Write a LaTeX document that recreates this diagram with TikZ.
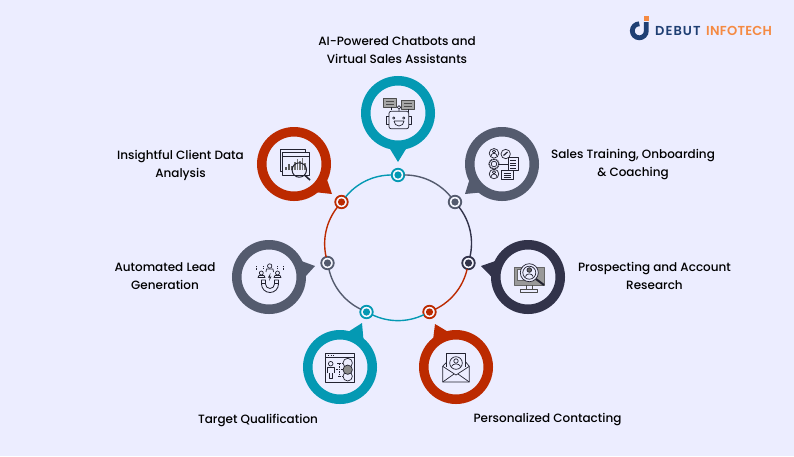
\documentclass[tikz,border=0pt]{standalone}
\usepackage{fontspec}
\setmainfont{Poppins}
\newfontfamily\labelfont{Poppins Medium}
\newfontfamily\brandleft[LetterSpace=8]{Poppins SemiBold}
\newfontfamily\brandright[LetterSpace=2]{Poppins SemiBold}
\usetikzlibrary{positioning}
\usetikzlibrary{calc}
\definecolor{paper}{HTML}{ECEDFF}
\definecolor{tealc}{HTML}{0499B3}
\definecolor{redc}{HTML}{BC2A00}
\definecolor{greyc}{HTML}{545B6E}
\definecolor{darkc}{HTML}{32334A}
\definecolor{inkc}{HTML}{222230}
\definecolor{navyc}{HTML}{1F3F73}
\definecolor{orangec}{HTML}{F58A42}
\tikzstyle{pin}=[circle,line width=9.5pt,fill=paper,draw,minimum size=64.5pt,inner sep=0pt,outer sep=0pt]
\tikzstyle{dot}=[circle,line width=1.8pt,fill=paper!40!white,draw,minimum size=12.5pt,inner sep=0pt,outer sep=0pt]
\tikzstyle{arcline}=[draw,line width=1.4pt]
\tikzstyle{caption}=[font=\labelfont\fontsize{12}{18}\selectfont,align=center,text=black]
\tikzstyle{icon}=[draw=inkc,line width=0.7pt,line join=round]
\tikzstyle{brand}=[inner sep=0pt,anchor=west]

\begin{document}
\begin{tikzpicture}[x=1pt,y=-1pt]
    \useasboundingbox (0,0) rectangle (794,456);
    \fill[paper] (0,0) rectangle (794,456);

    % First we draw the ring of dots
    \foreach \pos/\name/\col in {{(398,175)/D1/tealc}, {(455,202)/D2/greyc}, {(468.5,263)/D3/darkc}, {(429.5,312)/D4/redc}, {(366.5,312)/D5/tealc}, {(327.5,263)/D6/greyc}, {(341.5,202)/D7/redc}}
    {
        \node[dot,draw=\col] (\name) at \pos {};
        \fill[\col] (\name) circle (3.6);
    }

    % Connect dots with arcs
    \foreach \source/\dest/\col in {D1/D2/greyc, D2/D3/darkc, D3/D4/redc, D4/D5/tealc, D5/D6/greyc, D6/D7/redc, D7/D1/tealc}
        \path[arcline,\col] (\source) to[bend left=25.7,looseness=0.9] (\dest);

    % Pins with their tips
    \foreach \pos/\name/\point/\col/\ang in {{(398,113)/P1/(398,162)/tealc/270}, {(502,164)/P2/(465,194)/greyc/219}, {(528,277)/P3/(481,266)/darkc/167}, {(456,367)/P4/(435,324)/redc/116}, {(340,367)/P5/(362,323)/tealc/63}, {(269,277)/P6/(315,266)/greyc/13}, {(294,164)/P7/(332,194)/redc/322}}
    {
        \node[pin,draw=\col] (\name) at \pos {};
        \pgfmathsetmacro{\lo}{\ang-21}
        \pgfmathsetmacro{\hi}{\ang+21}
        \fill[\col] \point -- (\name.\lo) -- (\name.\hi) -- cycle;
    }

    % Labels
    \foreach \pos/\name/\label in {{(397,50)/L1/{AI-Powered Chatbots and\\Virtual Sales Assistants}}, {(633,165)/L2/{Sales Training, Onboarding\\\& Coaching}}, {(654.5,276)/L3/{Prospecting and Account\\Research}}, {(547.5,420)/L4/{Personalized Contacting}}, {(258,420)/L5/{Target Qualification}}, {(165,276)/L6/{Automated Lead\\Generation}}, {(180.5,165)/L7/{Insightful Client Data\\Analysis}}}
        \node[caption] (\name) at \pos {\label};

    % Icons, each one round the centre of its pin
    \begin{scope}[shift={(398,113)}]
        \draw[icon,rounded corners=2] (-9,-1.7) rectangle (10.7,15.7);
        \draw[icon] (-9,3) -- (-12,3) -- (-12,11) -- (-9,11) (10.7,3) -- (13.5,3) -- (13.5,11) -- (10.7,11);
        \draw[icon] (-4.3,5) circle (1.2) (5.7,5) circle (1.2);
        \draw[icon] (-4,8) -- (6,8) arc (0:180:5 and 5);
        \draw[icon] (1,-1.7) -- (1,-4) (1,-5.7) circle (1.7);
        \draw[icon,fill=black!35,draw=black!70] (-15,-15) rectangle (-1.7,-6);
        \draw[icon,fill=black!35,draw=black!70] (3.3,-12.7) rectangle (16.3,-3.6);
        \draw[icon,draw=black!70] (-12.5,-12) -- (-4,-12) (-12.5,-9) -- (-4,-9) (5.5,-9.7) -- (14,-9.7) (5.5,-6.7) -- (14,-6.7);
        \draw[icon] (-7,-6) -- (-7,-3.5) (10,-3.6) -- (10,-1.2);
    \end{scope}
    \begin{scope}[shift={(502,164)}]
        \draw[icon] (-8,-10.7) circle (4.8) (-8,10) circle (4.8) (3.7,-10) circle (4.7);
        \draw[icon,dash pattern=on 1.2pt off 0.6pt,line width=1.3pt] (-8,0) circle (5);
        \draw[icon] (-8,0) circle (2.8);
        \draw[icon] (-8,-12.5) circle (1.6) (-11,-7.8) arc (180:360:3 and 3);
        \draw[icon] (-8,8.2) circle (1.6) (-11,13) arc (180:360:3 and 3);
        \draw[icon,line width=1.2pt] (1.5,-8.5) -- (5.5,-12);
        \draw[icon] (-3,0) -- (6,0);
        \draw[icon,fill=paper] (6,-6.7) rectangle (16,6.7);
        \draw[icon] (8,-3.5) -- (14,-3.5) (8,-1) -- (14,-1) (8,1.5) -- (14,1.5) (8,4) -- (14,4);
        \draw[icon,fill=paper] (-0.7,6) rectangle (11,15.3);
        \draw[icon] (1.5,9) -- (9,9) (1.5,11) -- (9,11) (1.5,13) -- (9,13);
    \end{scope}
    \begin{scope}[shift={(528,277)}]
        \draw[icon,fill=black!40,draw=black!60] (-14,-10) rectangle (16,8);
        \draw[icon,fill=paper,draw=black!60] (-11,-8) rectangle (-3,3);
        \draw[icon,draw=black!70] (-2,8) -- (-2,12.7) (4,8) -- (4,12.7);
        \draw[icon,draw=black!70] (-8,12.7) rectangle (9,15.3);
        \draw[icon,fill=paper] (1.3,-4.3) circle (9);
        \draw[icon] (1.3,-4.3) circle (6.5);
        \draw[icon,fill=black!60] (1.3,-7) circle (2.3);
        \draw[icon] (-2.5,-0.5) .. controls (-2,-4) and (4.5,-4) .. (5,-0.5);
        \draw[icon,line width=2pt] (8,2) -- (16,8);
    \end{scope}
    \begin{scope}[shift={(456,367)}]
        \draw[icon] (-9.3,0) -- (-9.3,-14) -- (9.7,-14) -- (9.7,0);
        \draw[icon] (0,-4) circle (6.3) (0,-6) circle (2.2);
        \draw[icon] (-4.5,-0.5) .. controls (-3,-4) and (3,-4) .. (4.5,-0.5);
        \draw[icon] (-9.3,-5) -- (-13.3,-0.7) -- (-13.3,15) -- (13.3,15) -- (13.3,-0.7) -- (9.7,-5);
        \draw[icon] (-13.3,-0.7) -- (0,8) -- (13.3,-0.7) (-13.3,15) -- (-2,7) (13.3,15) -- (2,7);
    \end{scope}
    \begin{scope}[shift={(340,367)}]
        \draw[icon] (-14.3,-14) rectangle (14.3,15.3);
        \draw[icon] (-14.3,-9.7) -- (14.3,-9.7);
        \draw[icon] (-12,-12) -- (-11,-12) (-9.5,-12) -- (-8.5,-12) (-7,-12) -- (-6,-12);
        \draw[icon] (-9.3,-3.3) circle (2.3);
        \draw[icon] (-12.5,6) -- (-12.5,0.5) -- (-6,0.5) -- (-6,6) (-11,6) -- (-11,11) -- (-7.5,11) -- (-7.5,6);
        \draw[icon,dash pattern=on 1.5pt off 1pt] (-3,-4) -- (-1,-4) -- (-1,9.5) -- (-3,9.5) (-4,2.7) -- (3,2.7) (-1,-4) -- (3,-4) (-1,9.5) -- (3,9.5);
        \draw[icon] (7.7,-4) circle (4.7) (7.7,9.3) circle (4.7);
        \draw[icon,fill=black!45] (7.7,2.7) circle (4.7);
    \end{scope}
    \begin{scope}[shift={(269,277)}]
        % magnet
        \draw[icon,line width=0.8pt] (-7.5,3) -- (-7.5,7) arc (180:360:8.5 and -8.5) -- (9.5,3) -- (5.5,3) -- (5.5,7) arc (0:180:4.5 and 4.5) -- (-3.5,3) -- cycle;
        \draw[icon] (-7.5,6) -- (-3.5,6) (5.5,6) -- (9.5,6);
        % people
        \draw[icon] (0.7,-11) circle (2.2) (-7.7,-4) circle (2) (8.5,-4) circle (2);
        \draw[icon] (-3,-5) -- (-2.5,-8) -- (4,-8) -- (4.5,-5);
        \draw[icon] (-11,0.5) -- (-10,-1.5) -- (-5,-1.5) -- (-4,0.5) -- cycle (5,0.5) -- (6,-1.5) -- (11,-1.5) -- (12,0.5) -- cycle;
        \fill[inkc] (1.5,-4) -- (-1,0.5) -- (0.7,0.5) -- (0,4) -- (2.5,-0.5) -- (0.8,-0.5) -- cycle;
        \draw[icon,densely dotted] (-12.5,-11) -- (-12.5,-7) (14,-11) -- (14,-7) (-6,-11) -- (-6,-9) (8,-11) -- (8,-9);
    \end{scope}
    \begin{scope}[shift={(294,164)}]
        \draw[icon] (-11,7.7) -- (-14,7.7) -- (-14,-14.7) -- (11,-14.7) -- (11,-11.3);
        \draw[icon,fill=paper] (-11.3,-11.3) rectangle (15,11);
        \draw[icon] (-11.3,-7.5) -- (15,-7.5);
        \foreach \x/\h in {-8/3, -5/6, -2/4}
            \draw[icon,line width=1.2pt,draw=black!65] (\x,6) -- (\x,6-\h);
        \foreach \x/\h in {1/8, 3.5/11, 6/9, 8.5/12, 11/7}
            \draw[icon,line width=1.4pt,draw=black!55] (\x,6) -- (\x,6-\h);
        \draw[icon,line width=1pt] (5.3,6) circle (7.2);
        \draw[icon,line width=1.6pt] (10.5,11) -- (16,16);
    \end{scope}

    % Brand in the corner
    \node[brand,text=navyc,font=\brandleft\fontsize{13}{14}\selectfont] (LogoA) at (655,30.5) {DEBUT};
    \node[brand,text=orangec,font=\brandright\fontsize{13}{14}\selectfont] (LogoB) at (706,30.5) {INFOTECH};
    \draw[navyc,line width=4.8pt] (639.3,23.8) arc (90:360:7 and -7) -- (646.3,22);
    \fill[orangec] (643.5,16) rectangle (649,21);
\end{tikzpicture}
\end{document}
